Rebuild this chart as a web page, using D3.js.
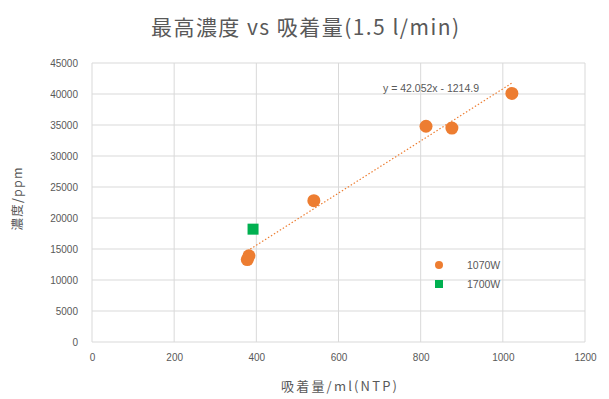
<!DOCTYPE html>
<html><head><meta charset="utf-8">
<script src="https://cdn.jsdelivr.net/npm/d3@7"></script>
<style>body{margin:0;background:#fff;}svg{display:block;font-family:"Noto Sans CJK JP","Noto Sans",sans-serif;}</style>
</head><body>
<svg id="c" width="609" height="399"></svg>
<script>
const series1Name = "1070W";
const series1X = [378, 382, 540, 813, 876, 1022];
const series1Y = [13300, 13900, 22800, 34800, 34500, 40100];
const series2Name = "1700W";
const series2X = [392];
const series2Y = [18200];
const xTicks = [0, 200, 400, 600, 800, 1000, 1200];
const yTicks = [0, 5000, 10000, 15000, 20000, 25000, 30000, 35000, 40000, 45000];
const trendSlope = 42.052, trendIntercept = -1214.9;
const trendLabel = "y = 42.052x - 1214.9";
const titleText = "最高濃度 vs 吸着量(1.5 l/min)";
const xTitle = "吸着量/ml(NTP)";
const yTitle = "濃度/ppm";

const svg = d3.select("#c");
const x = d3.scaleLinear().domain([0, 1200]).range([92, 585]);
const y = d3.scaleLinear().domain([0, 45000]).range([342, 63]);
const grid = "#d9d9d9", txt = "#595959";

svg.append("text").attr("x", 305).attr("y", 35).attr("text-anchor", "middle")
  .attr("font-size", 21).attr("fill", txt)
  .attr("textLength", 308).attr("lengthAdjust", "spacing").text(titleText);

// gridlines
svg.append("g").selectAll("line").data(yTicks).join("line")
  .attr("x1", x(0)).attr("x2", x(1200)).attr("y1", d => y(d)).attr("y2", d => y(d))
  .attr("stroke", grid).attr("stroke-width", 1);
svg.append("g").selectAll("line").data(xTicks).join("line")
  .attr("y1", y(0)).attr("y2", y(45000)).attr("x1", d => x(d)).attr("x2", d => x(d))
  .attr("stroke", grid).attr("stroke-width", 1);

// axes labels via d3 axes
const yAxis = svg.append("g").attr("transform", `translate(${x(0)},0)`)
  .call(d3.axisLeft(y).tickValues(yTicks).tickSize(0).tickPadding(14).tickFormat(d3.format("d")));
yAxis.select(".domain").remove();
yAxis.selectAll("text").attr("fill", txt).attr("font-size", 10).attr("font-family", "Liberation Sans, sans-serif");
const xAxis = svg.append("g").attr("transform", `translate(0,${y(0)})`)
  .call(d3.axisBottom(x).tickValues(xTicks).tickSize(0).tickPadding(12).tickFormat(d3.format("d")));
xAxis.select(".domain").remove();
xAxis.selectAll("text").attr("fill", txt).attr("font-size", 10).attr("font-family", "Liberation Sans, sans-serif");

// axis titles
svg.append("text").attr("x", 339).attr("y", 391).attr("text-anchor", "middle")
  .attr("font-size", 13).attr("fill", txt)
  .attr("textLength", 116).attr("lengthAdjust", "spacing").text(xTitle);
svg.append("text").attr("transform", "translate(22,199) rotate(-90)").attr("text-anchor", "middle")
  .attr("font-size", 12.5).attr("fill", txt)
  .attr("textLength", 63).attr("lengthAdjust", "spacing").text(yTitle);

// trendline
const tx0 = d3.min(series1X), tx1 = d3.max(series1X);
svg.append("line")
  .attr("x1", x(tx0)).attr("y1", y(trendSlope * tx0 + trendIntercept))
  .attr("x2", x(tx1)).attr("y2", y(trendSlope * tx1 + trendIntercept))
  .attr("stroke", "#ED7D31").attr("stroke-width", 1.2).attr("stroke-dasharray", "1.5,2");
svg.append("text").attr("x", 431).attr("y", 92).attr("text-anchor", "middle")
  .attr("font-size", 10.5).attr("fill", txt).attr("font-family", "Liberation Sans, sans-serif").text(trendLabel);

// points
const s1 = series1X.map((v, i) => ({x: v, y: series1Y[i]}));
svg.append("g").selectAll("circle").data(s1).join("circle")
  .attr("cx", d => x(d.x)).attr("cy", d => y(d.y)).attr("r", 6.5).attr("fill", "#ED7D31");
const s2 = series2X.map((v, i) => ({x: v, y: series2Y[i]}));
svg.append("g").selectAll("rect").data(s2).join("rect")
  .attr("x", d => x(d.x) - 5.5).attr("y", d => y(d.y) - 5.5).attr("width", 11).attr("height", 11).attr("fill", "#00B050");

// legend
const leg = svg.append("g");
leg.append("circle").attr("cx", 439).attr("cy", 265).attr("r", 4).attr("fill", "#ED7D31");
leg.append("rect").attr("x", 435).attr("y", 280).attr("width", 8).attr("height", 8).attr("fill", "#00B050");
leg.append("text").attr("x", 467).attr("y", 269).attr("font-size", 10.5).attr("fill", txt).attr("font-family", "Liberation Sans, sans-serif").text(series1Name);
leg.append("text").attr("x", 467).attr("y", 288).attr("font-size", 10.5).attr("fill", txt).attr("font-family", "Liberation Sans, sans-serif").text(series2Name);
</script>
</body></html>
